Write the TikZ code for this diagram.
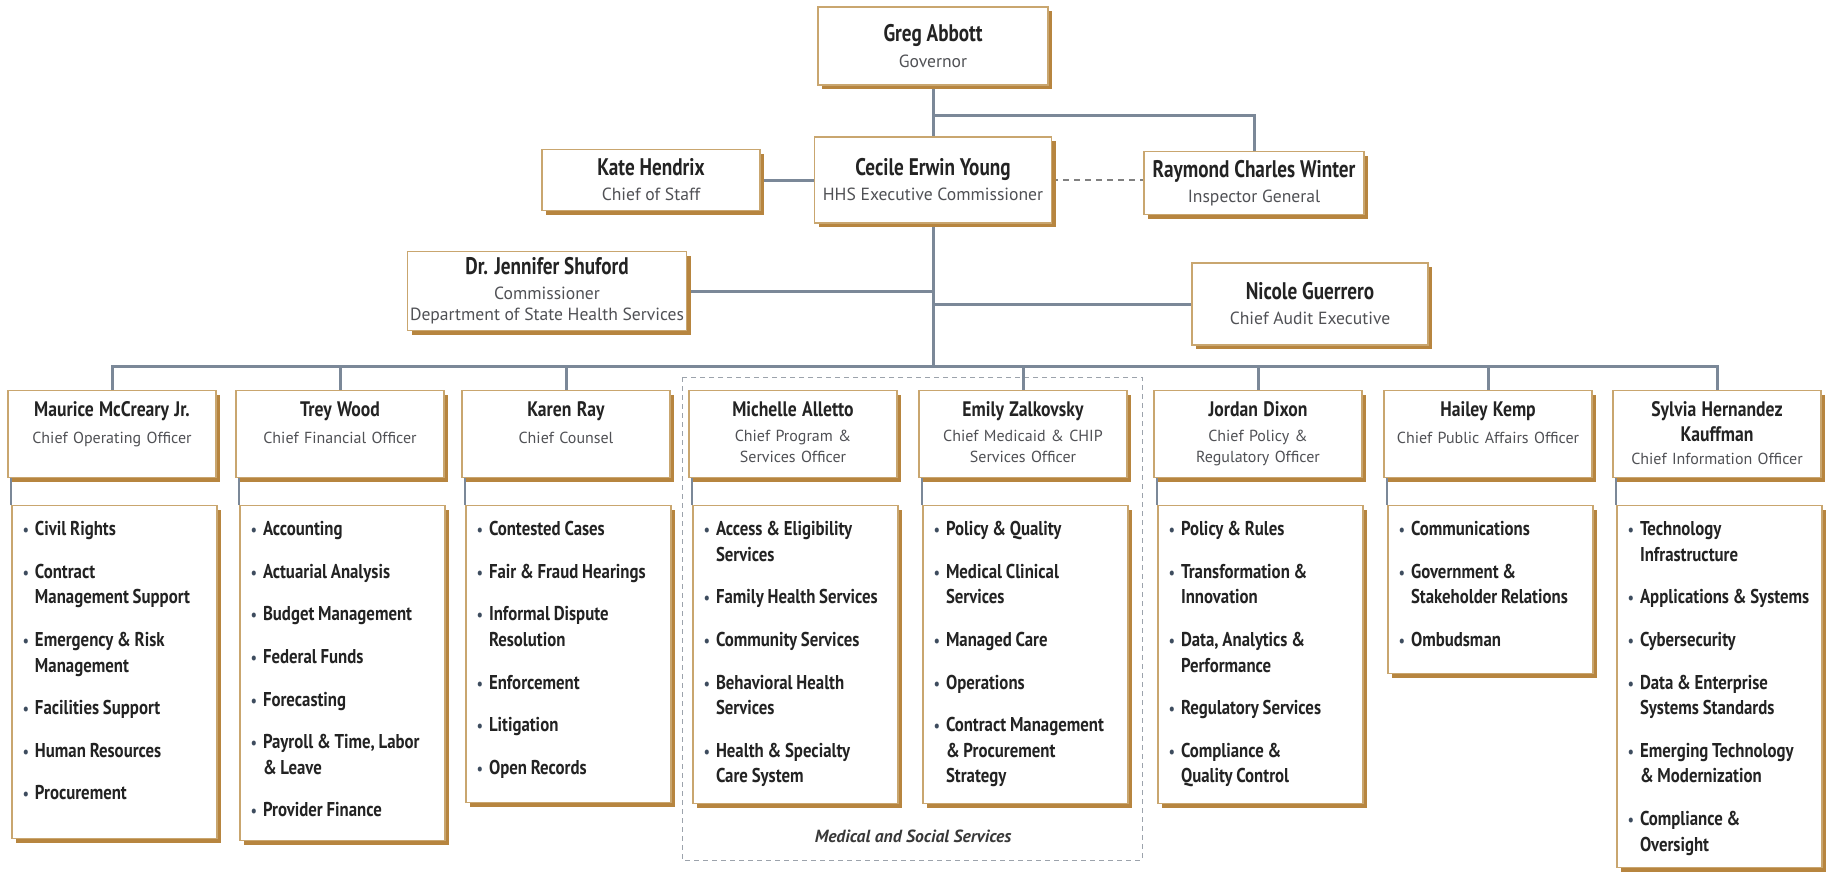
\documentclass[tikz,border=0pt]{standalone}
\usepackage{fontspec}
\setmainfont{PT Sans}
\newfontfamily\bossfont[FakeStretch=0.8]{PT Sans}
\newfontfamily\narrowfont[FakeStretch=0.84]{PT Sans}
\usetikzlibrary{shadows,backgrounds}

\definecolor{linkgray}{HTML}{7B8898}
\definecolor{boxedge}{HTML}{C9A66F}
\definecolor{boxshadow}{HTML}{B7853F}
\definecolor{titlegray}{HTML}{505155}
\definecolor{itemblack}{HTML}{232323}
\definecolor{dotblue}{HTML}{3D4C5E}
\definecolor{framegray}{HTML}{9CA3AC}

\newcommand{\bossname}[1]{{\bossfont\bfseries\fontsize{12}{14}\selectfont\color{itemblack}#1}}
\newcommand{\headname}[1]{{\narrowfont\bfseries\fontsize{10.5}{12}\selectfont\color{itemblack}#1}}

\newenvironment{duties}{%
  \begin{list}{\textcolor{dotblue}{\fontsize{8}{8}\selectfont\textbullet}}{%
    \setlength{\leftmargin}{8.5pt}\setlength{\labelwidth}{5pt}%
    \setlength{\labelsep}{3pt}\setlength{\itemsep}{8.5pt}%
    \setlength{\parsep}{0pt}\setlength{\topsep}{0pt}\setlength{\partopsep}{0pt}}%
  \spaceskip=1.9pt plus 0.5pt\xspaceskip=2.2pt plus 0.5pt\relax}%
  {\end{list}}

\begin{document}
\begin{tikzpicture}[x=0.5pt,y=-0.5pt,
  card/.style={draw=boxedge,line width=0.6pt,fill=white,
    drop shadow={fill=boxshadow,opacity=1,shadow xshift=2pt,shadow yshift=-2pt}},
  topbox/.style={card,align=center,inner sep=0pt,text=titlegray,
    font=\fontsize{8.8}{10.5}\selectfont},
  deptbox/.style={card,anchor=north,text width=100pt,inner xsep=2pt,inner ysep=0pt,
    align=center,text height=13pt,text depth=30.5pt,text=titlegray,
    font=\fontsize{8}{10.5}\selectfont},
  listbox/.style={card,anchor=north,text width=96.5pt,inner xsep=3pt,inner ysep=0pt,
    align=left,text height=2.2pt,text=itemblack,
    font=\narrowfont\bfseries\fontsize{10}{12.8}\selectfont},
  link/.style={draw=linkgray,line width=1.5pt},
  sublink/.style={draw=linkgray,line width=1pt},
  sidelink/.style={draw=gray,line width=0.7pt,dash pattern=on 3pt off 2.5pt},
  groupframe/.style={draw=framegray,line width=0.5pt,dash pattern=on 2.5pt off 2pt},
  grouplabel/.style={text=itemblack!90,font=\bfseries\itshape\fontsize{8.8}{10}\selectfont}]
	\useasboundingbox (0,0) rectangle (1829,873);
	% executive office
	\node[topbox,minimum width=115pt,minimum height=39pt] (gov) at (933,46)
		{\bossname{Greg Abbott}\\[2.5pt]Governor};
	\node[topbox,minimum width=118.5pt,minimum height=43pt] (hhs) at (933,180)
		{\bossname{Cecile Erwin Young}\\[2pt]HHS Executive Commissioner};
	\node[topbox,minimum width=109pt,minimum height=30.5pt] (cos) at (651,180)
		{\bossname{Kate Hendrix}\\[2pt]Chief of Staff};
	\node[topbox,minimum width=110pt,minimum height=31.5pt] (oig) at (1254,183)
		{\bossname{Raymond Charles Winter}\\[2pt]Inspector General};
	\node[topbox,minimum width=139.5pt,minimum height=39.5pt] (dshs) at (547,291)
		{\bossname{Dr. Jennifer Shuford}\\[2pt]Commissioner\\Department of State Health Services};
	\node[topbox,minimum width=118pt,minimum height=41pt] (cae) at (1310,304)
		{\bossname{Nicole Guerrero}\\[2pt]Chief Audit Executive};
	\coordinate (top) at (933,115);
	\coordinate (bus) at (933,366);
	% chiefs
	\node[deptbox] (coo) at (112,390) {\headname{Maurice McCreary Jr.}\\[3pt]Chief Operating Officer};
	\node[deptbox] (cfo) at (340,390) {\headname{Trey Wood}\\[3pt]Chief Financial Officer};
	\node[deptbox] (legal) at (566,390) {\headname{Karen Ray}\\[3pt]Chief Counsel};
	\node[deptbox] (cpso) at (793,390) {\headname{Michelle Alletto}\\[2pt]Chief Program \&\\Services Officer};
	\node[deptbox] (medicaid) at (1023,390) {\headname{Emily Zalkovsky}\\[2pt]Chief Medicaid \& CHIP\\Services Officer};
	\node[deptbox] (policy) at (1258,390) {\headname{Jordan Dixon}\\[2pt]Chief Policy \&\\Regulatory Officer};
	\node[deptbox] (pao) at (1488,390) {\headname{Hailey Kemp}\\[3pt]Chief Public Affairs Officer};
	\node[deptbox] (cio) at (1717,390) {\headname{Sylvia Hernandez}\\[2pt]\headname{Kauffman}\\[1pt]Chief Information Officer};
	% divisions
	\node[listbox,text depth=164.3pt] (coolist) at (114.5,505) {\begin{duties}
		\item Civil Rights
		\item Contract\\Management Support
		\item Emergency \& Risk\\Management
		\item Facilities Support
		\item Human Resources
		\item Procurement
	\end{duties}};
	\node[listbox,text depth=165.3pt] (cfolist) at (342.5,505) {\begin{duties}
		\item Accounting
		\item Actuarial Analysis
		\item Budget Management
		\item Federal Funds
		\item Forecasting
		\item Payroll \& Time, Labor\\\& Leave
		\item Provider Finance
	\end{duties}};
	\node[listbox,text depth=146.3pt] (legallist) at (568.5,505) {\begin{duties}
		\item Contested Cases
		\item Fair \& Fraud Hearings
		\item Informal Dispute\\Resolution
		\item Enforcement
		\item Litigation
		\item Open Records
	\end{duties}};
	\node[listbox,text depth=146.8pt] (cpsolist) at (795.5,505) {\begin{duties}
		\item Access \& Eligibility\\Services
		\item Family Health Services
		\item Community Services
		\item Behavioral Health\\Services
		\item Health \& Specialty\\Care System
	\end{duties}};
	\node[listbox,text depth=146.8pt] (medicaidlist) at (1025.5,505) {\begin{duties}
		\item Policy \& Quality
		\item Medical Clinical\\Services
		\item Managed Care
		\item Operations
		\item Contract Management\\\& Procurement\\Strategy
	\end{duties}};
	\node[listbox,text depth=146.8pt] (policylist) at (1260.5,505) {\begin{duties}
		\item Policy \& Rules
		\item Transformation \&\\Innovation
		\item Data, Analytics \&\\Performance
		\item Regulatory Services
		\item Compliance \&\\Quality Control
	\end{duties}};
	\node[listbox,text depth=81.8pt] (paolist) at (1490.5,505) {\begin{duties}
		\item Communications
		\item Government \&\\Stakeholder Relations
		\item Ombudsman
	\end{duties}};
	\node[listbox,text depth=178.8pt] (ciolist) at (1719.5,505) {\begin{duties}
		\item Technology\\Infrastructure
		\item Applications \& Systems
		\item Cybersecurity
		\item Data \& Enterprise\\Systems Standards
		\item Emerging Technology\\\& Modernization
		\item Compliance \&\\Oversight
	\end{duties}};
	\node[grouplabel] (msslabel) at (913,836) {Medical and Social Services};
	% connectors
	\begin{scope}[on background layer]
		\draw[groupframe] (682,377) rectangle (1142,860);
		\draw[link] (gov) -- (hhs);
		\draw[link] (top) -| (oig.north);
		\draw[link] (cos) -- (hhs);
		\draw[sidelink] (hhs.east) -- (hhs.east -| oig.west);
		\draw[link] (hhs) -- (bus);
		\draw[link] (dshs.east) -- (dshs.east -| bus);
		\draw[link] (bus |- cae.west) -- (cae.west);
		\draw[link] (coo.north) |- (bus) -| (cio.north);
		\draw[link] (cfo.north |- bus) -- (cfo.north);
		\draw[link] (legal.north |- bus) -- (legal.north);
		\draw[link] (medicaid.north |- bus) -- (medicaid.north);
		\draw[link] (policy.north |- bus) -- (policy.north);
		\draw[link] (pao.north |- bus) -- (pao.north);
		\draw[sublink] (coolist.north west) -- (coolist.north west |- coo.south);
		\draw[sublink] (cfolist.north west) -- (cfolist.north west |- cfo.south);
		\draw[sublink] (legallist.north west) -- (legallist.north west |- legal.south);
		\draw[sublink] (cpsolist.north west) -- (cpsolist.north west |- cpso.south);
		\draw[sublink] (medicaidlist.north west) -- (medicaidlist.north west |- medicaid.south);
		\draw[sublink] (policylist.north west) -- (policylist.north west |- policy.south);
		\draw[sublink] (paolist.north west) -- (paolist.north west |- pao.south);
		\draw[sublink] (ciolist.north west) -- (ciolist.north west |- cio.south);
	\end{scope}
\end{tikzpicture}
\end{document}
